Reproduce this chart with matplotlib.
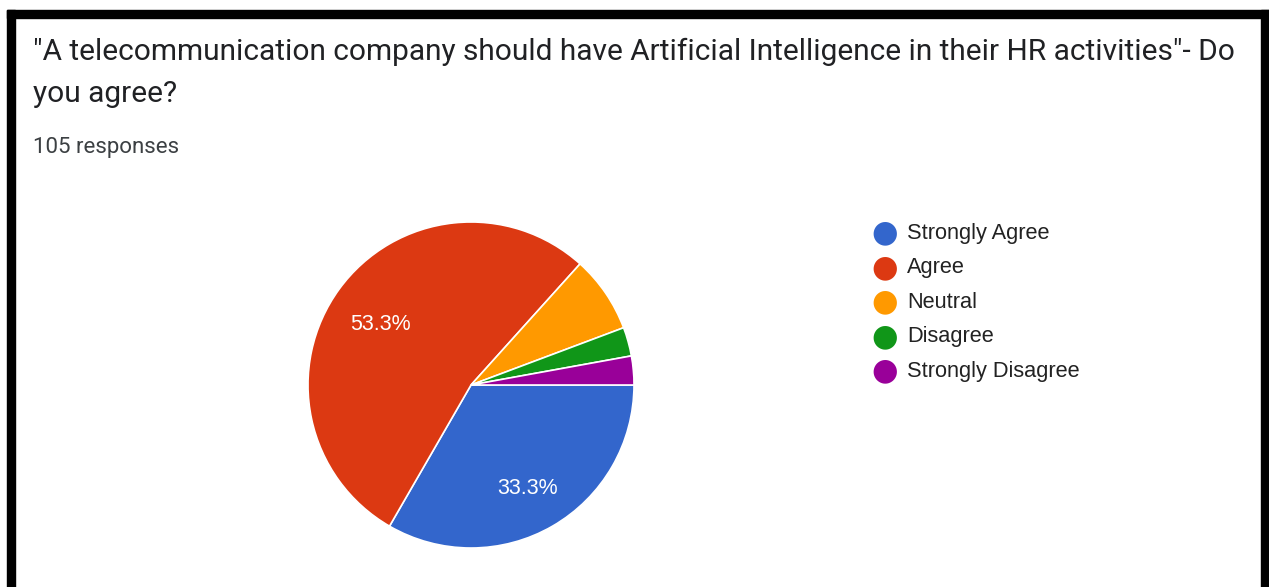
import matplotlib.pyplot as plt
from matplotlib.patches import Rectangle

W, H = 1269, 587

title_lines = ['"A telecommunication company should have Artificial Intelligence in their HR activities"- Do',
               'you agree?']
subtitle = "105 responses"
labels = ["Strongly Agree", "Agree", "Neutral", "Disagree", "Strongly Disagree"]
counts = [35, 56, 8, 3, 3]
colors = ["#3366cc", "#dc3912", "#ff9900", "#109618", "#990099"]


def fx(px):
    return px / W


def fy(py):
    return 1 - py / H


fig = plt.figure(figsize=(W / 100, H / 100), dpi=100)
fig.patch.set_facecolor("white")

# black frame (left, top, right)
for x0, y0, w, h in [(7, 10, 8, 577), (7, 10, 1262, 8), (1261, 10, 8, 577)]:
    fig.patches.append(Rectangle((fx(x0), fy(y0 + h)), w / W, h / H,
                                 transform=fig.transFigure, color="black", zorder=5))

# title + subtitle
fig.text(fx(33), fy(60), title_lines[0], fontsize=21.5, family="Roboto",
         color="#202124", va="baseline", ha="left")
fig.text(fx(33), fy(102), title_lines[1], fontsize=21.5, family="Roboto",
         color="#202124", va="baseline", ha="left")
fig.text(fx(33), fy(153), subtitle, fontsize=16, family="Roboto",
         color="#3c4043", va="baseline", ha="left")

# pie
cx, cy, r = 471, 385, 163
ax = fig.add_axes([fx(cx - r), fy(cy + r), 2 * r / W, 2 * r / H])


def pct_fmt(p):
    return f"{p:.1f}%" if p > 10 else ""


wedges, texts, autotexts = ax.pie(counts, colors=colors, startangle=0, counterclock=False,
                                  radius=1, autopct=pct_fmt, pctdistance=0.69,
                                  wedgeprops=dict(edgecolor="white", linewidth=1.2))
ax.set_xlim(-1, 1); ax.set_ylim(-1, 1); ax.set_aspect("equal"); ax.axis("off")
for t in autotexts:
    t.set_color("white"); t.set_fontsize(15.5); t.set_family("Liberation Sans")
    px, py = t.get_position()
    t.set_position((px, py - 0.035))

# legend
lx, ly0, dy = 885, 233, 34.5
for i, (lab, col) in enumerate(zip(labels, colors)):
    y = ly0 + i * dy
    fig.text(fx(lx), fy(y), "\u25CF", fontsize=22, color=col, ha="center", va="center",
             family="DejaVu Sans")
    fig.text(fx(907), fy(y), lab, fontsize=15.7, family="Liberation Sans",
             color="#222222", ha="left", va="center")

fig.savefig("out.png", dpi=100)
